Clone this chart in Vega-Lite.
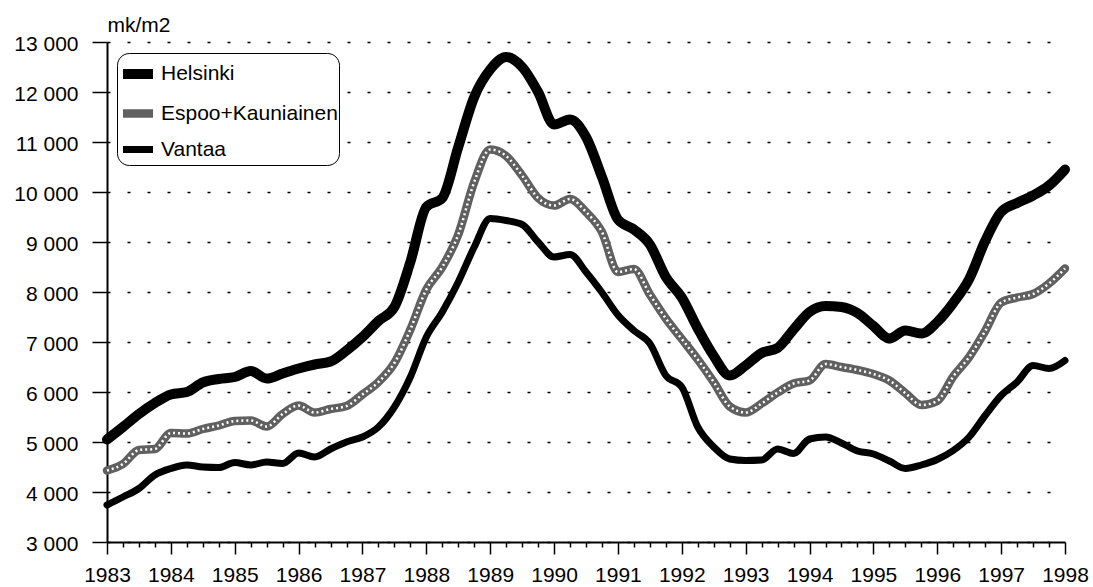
{
  "$schema": "https://vega.github.io/schema/vega-lite/v6.json",
  "width": 958,
  "height": 500,
  "autosize": "none",
  "padding": {"left": 107, "top": 42, "right": 28, "bottom": 45},
  "background": "white",
  "config": {
    "view": {"stroke": null},
    "font": "Liberation Sans",
    "axis": {"labelColor": "black", "labelFont": "Liberation Sans", "titleColor": "black", "titleFont": "Liberation Sans"},
    "legend": {"labelFont": "Liberation Sans"}
  },
  "data": {
    "values": [
      {"t": 1983.00, "Helsinki": 5050, "Espoo+Kauniainen": 4430, "Vantaa": 3740},
      {"t": 1983.25, "Helsinki": 5300, "Espoo+Kauniainen": 4560, "Vantaa": 3900},
      {"t": 1983.50, "Helsinki": 5560, "Espoo+Kauniainen": 4840, "Vantaa": 4070},
      {"t": 1983.75, "Helsinki": 5780, "Espoo+Kauniainen": 4860, "Vantaa": 4340},
      {"t": 1984.00, "Helsinki": 5950, "Espoo+Kauniainen": 5180, "Vantaa": 4470},
      {"t": 1984.25, "Helsinki": 6000, "Espoo+Kauniainen": 5170, "Vantaa": 4540},
      {"t": 1984.50, "Helsinki": 6190, "Espoo+Kauniainen": 5260, "Vantaa": 4500},
      {"t": 1984.75, "Helsinki": 6260, "Espoo+Kauniainen": 5330, "Vantaa": 4490},
      {"t": 1985.00, "Helsinki": 6300, "Espoo+Kauniainen": 5420, "Vantaa": 4590},
      {"t": 1985.25, "Helsinki": 6420, "Espoo+Kauniainen": 5430, "Vantaa": 4540},
      {"t": 1985.50, "Helsinki": 6270, "Espoo+Kauniainen": 5310, "Vantaa": 4600},
      {"t": 1985.75, "Helsinki": 6370, "Espoo+Kauniainen": 5560, "Vantaa": 4570},
      {"t": 1986.00, "Helsinki": 6470, "Espoo+Kauniainen": 5730, "Vantaa": 4780},
      {"t": 1986.25, "Helsinki": 6550, "Espoo+Kauniainen": 5590, "Vantaa": 4700},
      {"t": 1986.50, "Helsinki": 6610, "Espoo+Kauniainen": 5660, "Vantaa": 4860},
      {"t": 1986.75, "Helsinki": 6830, "Espoo+Kauniainen": 5720, "Vantaa": 5000},
      {"t": 1987.00, "Helsinki": 7100, "Espoo+Kauniainen": 5950, "Vantaa": 5100},
      {"t": 1987.25, "Helsinki": 7420, "Espoo+Kauniainen": 6200, "Vantaa": 5300},
      {"t": 1987.50, "Helsinki": 7700, "Espoo+Kauniainen": 6580, "Vantaa": 5700},
      {"t": 1987.75, "Helsinki": 8600, "Espoo+Kauniainen": 7250, "Vantaa": 6300},
      {"t": 1988.00, "Helsinki": 9700, "Espoo+Kauniainen": 8050, "Vantaa": 7100},
      {"t": 1988.25, "Helsinki": 9880, "Espoo+Kauniainen": 8500, "Vantaa": 7600},
      {"t": 1988.50, "Helsinki": 10900, "Espoo+Kauniainen": 9150, "Vantaa": 8200},
      {"t": 1988.75, "Helsinki": 11900, "Espoo+Kauniainen": 10200, "Vantaa": 8900},
      {"t": 1989.00, "Helsinki": 12450, "Espoo+Kauniainen": 10850, "Vantaa": 9470},
      {"t": 1989.25, "Helsinki": 12700, "Espoo+Kauniainen": 10720, "Vantaa": 9430},
      {"t": 1989.50, "Helsinki": 12500, "Espoo+Kauniainen": 10330, "Vantaa": 9350},
      {"t": 1989.75, "Helsinki": 12000, "Espoo+Kauniainen": 9880, "Vantaa": 9000},
      {"t": 1990.00, "Helsinki": 11350, "Espoo+Kauniainen": 9730, "Vantaa": 8700},
      {"t": 1990.25, "Helsinki": 11450, "Espoo+Kauniainen": 9860, "Vantaa": 8750},
      {"t": 1990.50, "Helsinki": 11100, "Espoo+Kauniainen": 9600, "Vantaa": 8400},
      {"t": 1990.75, "Helsinki": 10300, "Espoo+Kauniainen": 9200, "Vantaa": 7990},
      {"t": 1991.00, "Helsinki": 9450, "Espoo+Kauniainen": 8400, "Vantaa": 7540},
      {"t": 1991.25, "Helsinki": 9250, "Espoo+Kauniainen": 8460, "Vantaa": 7230},
      {"t": 1991.50, "Helsinki": 8950, "Espoo+Kauniainen": 7950, "Vantaa": 6970},
      {"t": 1991.75, "Helsinki": 8300, "Espoo+Kauniainen": 7470, "Vantaa": 6330},
      {"t": 1992.00, "Helsinki": 7890, "Espoo+Kauniainen": 7060, "Vantaa": 6100},
      {"t": 1992.25, "Helsinki": 7270, "Espoo+Kauniainen": 6650, "Vantaa": 5300},
      {"t": 1992.50, "Helsinki": 6720, "Espoo+Kauniainen": 6200, "Vantaa": 4900},
      {"t": 1992.75, "Helsinki": 6330, "Espoo+Kauniainen": 5710, "Vantaa": 4660},
      {"t": 1993.00, "Helsinki": 6530, "Espoo+Kauniainen": 5590, "Vantaa": 4630},
      {"t": 1993.25, "Helsinki": 6780, "Espoo+Kauniainen": 5770, "Vantaa": 4640},
      {"t": 1993.50, "Helsinki": 6880, "Espoo+Kauniainen": 5990, "Vantaa": 4860},
      {"t": 1993.75, "Helsinki": 7250, "Espoo+Kauniainen": 6170, "Vantaa": 4770},
      {"t": 1994.00, "Helsinki": 7600, "Espoo+Kauniainen": 6230, "Vantaa": 5060},
      {"t": 1994.25, "Helsinki": 7720, "Espoo+Kauniainen": 6560, "Vantaa": 5100},
      {"t": 1994.50, "Helsinki": 7700, "Espoo+Kauniainen": 6500, "Vantaa": 4980},
      {"t": 1994.75, "Helsinki": 7580, "Espoo+Kauniainen": 6440, "Vantaa": 4820},
      {"t": 1995.00, "Helsinki": 7320, "Espoo+Kauniainen": 6360, "Vantaa": 4760},
      {"t": 1995.25, "Helsinki": 7070, "Espoo+Kauniainen": 6230, "Vantaa": 4620},
      {"t": 1995.50, "Helsinki": 7230, "Espoo+Kauniainen": 5980, "Vantaa": 4470},
      {"t": 1995.75, "Helsinki": 7170, "Espoo+Kauniainen": 5740, "Vantaa": 4540},
      {"t": 1996.00, "Helsinki": 7400, "Espoo+Kauniainen": 5820, "Vantaa": 4650},
      {"t": 1996.25, "Helsinki": 7780, "Espoo+Kauniainen": 6310, "Vantaa": 4830},
      {"t": 1996.50, "Helsinki": 8260, "Espoo+Kauniainen": 6700, "Vantaa": 5100},
      {"t": 1996.75, "Helsinki": 9020, "Espoo+Kauniainen": 7220, "Vantaa": 5530},
      {"t": 1997.00, "Helsinki": 9600, "Espoo+Kauniainen": 7790, "Vantaa": 5930},
      {"t": 1997.25, "Helsinki": 9780, "Espoo+Kauniainen": 7890, "Vantaa": 6200},
      {"t": 1997.50, "Helsinki": 9930, "Espoo+Kauniainen": 7960, "Vantaa": 6530},
      {"t": 1997.75, "Helsinki": 10130, "Espoo+Kauniainen": 8170, "Vantaa": 6470},
      {"t": 1998.00, "Helsinki": 10450, "Espoo+Kauniainen": 8470, "Vantaa": 6630}
    ]
  },
  "transform": [
    {"fold": ["Helsinki", "Espoo+Kauniainen", "Vantaa"], "as": ["s", "v"]}
  ],
  "encoding": {
    "x": {
      "field": "t", "type": "quantitative",
      "scale": {"domain": [1983, 1998], "nice": false, "zero": false},
      "axis": {
        "title": null,
        "grid": false,
        "values": [1983, 1983.25, 1983.5, 1983.75, 1984, 1984.25, 1984.5, 1984.75, 1985, 1985.25, 1985.5, 1985.75, 1986, 1986.25, 1986.5, 1986.75, 1987, 1987.25, 1987.5, 1987.75, 1988, 1988.25, 1988.5, 1988.75, 1989, 1989.25, 1989.5, 1989.75, 1990, 1990.25, 1990.5, 1990.75, 1991, 1991.25, 1991.5, 1991.75, 1992, 1992.25, 1992.5, 1992.75, 1993, 1993.25, 1993.5, 1993.75, 1994, 1994.25, 1994.5, 1994.75, 1995, 1995.25, 1995.5, 1995.75, 1996, 1996.25, 1996.5, 1996.75, 1997, 1997.25, 1997.5, 1997.75, 1998],
        "labelExpr": "datum.value % 1 === 0 ? '' + datum.value : ''",
        "labelOverlap": false,
        "labelFlush": false,
        "labelBound": false,
        "labelFontSize": 21,
        "labelPadding": 10,
        "tickColor": "black",
        "tickWidth": 1.5,
        "tickSize": {"condition": {"test": "datum.value % 1 === 0", "value": 12}, "value": 5},
        "domainColor": "black",
        "domainWidth": 2
      }
    },
    "y": {
      "field": "v", "type": "quantitative",
      "scale": {"domain": [3000, 13000], "nice": false, "zero": false},
      "axis": {
        "values": [3000, 4000, 5000, 6000, 7000, 8000, 9000, 10000, 11000, 12000, 13000],
        "labelExpr": "replace(format(datum.value, ','), ',', ' ')",
        "labelFontSize": 21,
        "labelPadding": 14,
        "labelOffset": 2,
        "tickSize": 15,
        "tickColor": "black",
        "tickWidth": 1.5,
        "domainColor": "black",
        "domainWidth": 2,
        "grid": true,
        "gridColor": "black",
        "gridWidth": 1.5,
        "gridDash": [3, 17],
        "title": "mk/m2",
        "titleAngle": 0,
        "titleAlign": "left",
        "titleBaseline": "alphabetic",
        "titleX": 0,
        "titleY": -11,
        "titleFontSize": 21,
        "titleFontWeight": "normal"
      }
    }
  },
  "layer": [
    {
      "mark": {"type": "line", "interpolate": "monotone", "strokeCap": "round", "strokeJoin": "round"},
      "encoding": {
        "color": {
          "field": "s", "type": "nominal",
          "scale": {"domain": ["Helsinki", "Espoo+Kauniainen", "Vantaa"], "range": ["black", "#606060", "black"]},
          "legend": {"orient": "none", "legendX": 10, "legendY": 11, "title": null, "symbolType": "stroke", "symbolSize": 900, "labelFontSize": 21, "labelLimit": 400, "labelColor": "black", "fillColor": "white", "strokeColor": "black", "cornerRadius": 12, "padding": 1, "rowPadding": 0, "labelOffset": 3}
        },
        "strokeWidth": {
          "field": "s", "type": "nominal",
          "scale": {"domain": ["Helsinki", "Espoo+Kauniainen", "Vantaa"], "range": [10, 7, 5]},
          "legend": {"orient": "none", "legendX": 10, "legendY": 11, "title": null, "symbolType": "stroke", "symbolSize": 900, "labelFontSize": 21, "labelLimit": 400, "labelColor": "black", "fillColor": "white", "strokeColor": "black", "cornerRadius": 12, "padding": 1, "rowPadding": 0, "labelOffset": 3}
        }
      }
    },
    {
      "transform": [{"filter": "datum.s === 'Espoo+Kauniainen'"}],
      "mark": {"type": "line", "interpolate": "monotone", "color": "white", "strokeWidth": 2.5, "strokeDash": [2, 3]},
      "encoding": {}
    }
  ]
}
